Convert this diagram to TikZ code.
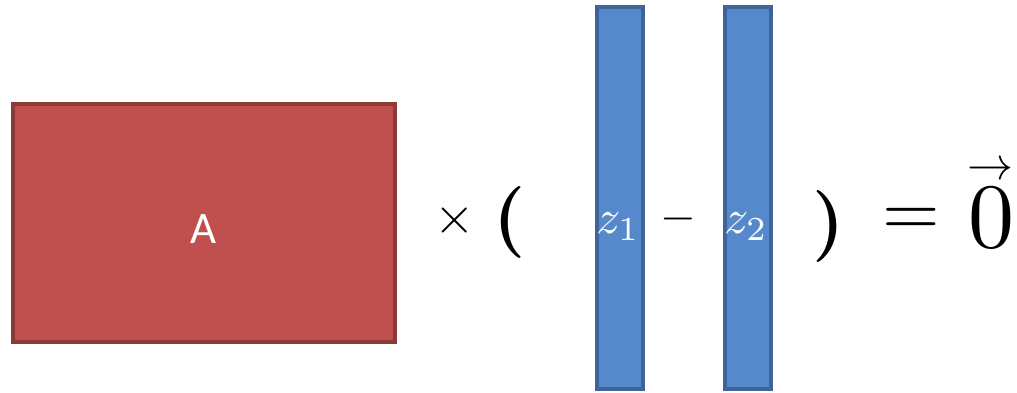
\documentclass[tikz,border=0pt]{standalone}
\usepackage{fontspec}
\newfontfamily\calib{Carlito}
\definecolor{redfill}{HTML}{C0504D}
\definecolor{redline}{HTML}{8C3A38}
\definecolor{bluefill}{HTML}{5689CB}
\definecolor{blueline}{HTML}{3D6599}
\begin{document}
\begin{tikzpicture}[x=1pt,y=-1pt,
  redbox/.style={draw=redline,fill=redfill,line width=4pt},
  bluebox/.style={draw=blueline,fill=bluefill,line width=4pt},
  sym/.style={inner sep=0pt,outer sep=0pt}]
\useasboundingbox (0,0) rectangle (1017,393);
\draw[redbox] (13,104) rectangle (395,342);
\node[sym,text=white,font=\calib\fontsize{45}{50}\selectfont] (A) at (204,229) {A};
\draw[bluebox] (597,7) rectangle (643,389);
\draw[bluebox] (725,7) rectangle (771,389);
\node[sym] (times) at (455,220) {\scalebox{5.2}{$\times$}};
\node[sym] (lp) at (510,222) {\scalebox{7.2}{\boldmath$($}};
\node[sym,text=white] (z1) at (618,227) {\scalebox{4.8}{$z_1$}};
\node[sym] (minus) at (678,219) {\scalebox{4.6}{$-$}};
\node[sym,text=white] (z2) at (746,227) {\scalebox{4.8}{$z_2$}};
\node[sym] (rp) at (829,226) {\scalebox{7.2}{\boldmath$)$}};
\node[sym] (eq) at (911,222) {\scalebox{7.4}{$=$}};
\node[sym,anchor=base] (zero) at (991,247) {\scalebox{9.2}{$0$}};
\node[sym] (arr) at (990,171) {\scalebox{4.6}{$\rightarrow$}};
\end{tikzpicture}
\end{document}
